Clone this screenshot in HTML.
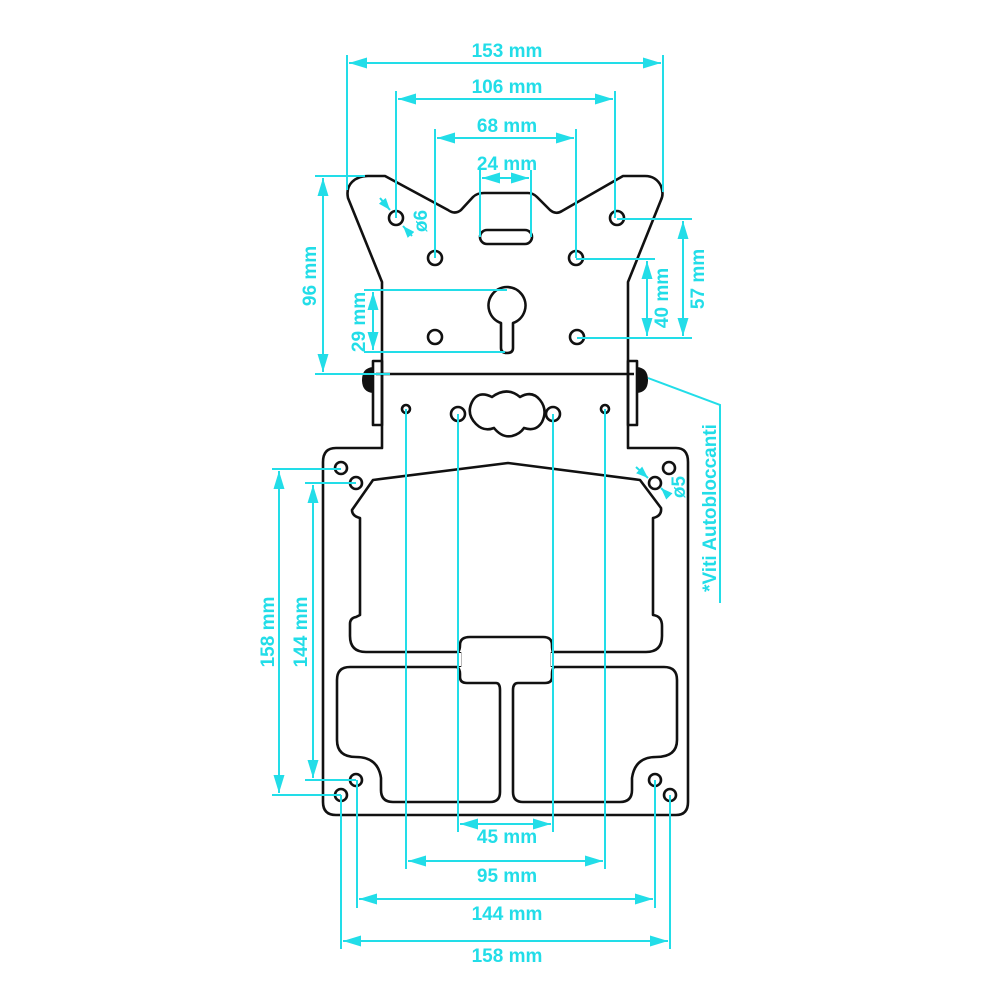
<!DOCTYPE html>
<html><head><meta charset="utf-8"><style>
html,body{margin:0;padding:0;background:#fff}
svg{display:block}
text{font-family:"Liberation Sans",sans-serif;font-weight:bold;fill:#22dde8;font-size:19px}
</style></head><body>
<svg width="1000" height="1000" viewBox="0 0 1000 1000" xmlns="http://www.w3.org/2000/svg">
<defs>
<marker id="a" viewBox="0 0 10 10" refX="10" refY="5" markerWidth="18" markerHeight="11" markerUnits="userSpaceOnUse" orient="auto-start-reverse" preserveAspectRatio="none"><path d="M0,0 L10,5 L0,10 Z" fill="#22dde8"/></marker>
<marker id="b" viewBox="0 0 10 10" refX="10" refY="5" markerWidth="12" markerHeight="9" markerUnits="userSpaceOnUse" orient="auto-start-reverse" preserveAspectRatio="none"><path d="M0,0 L10,5 L0,10 Z" fill="#22dde8"/></marker>
</defs>
<g fill="none" stroke="#111" stroke-width="2.6" stroke-linejoin="round">
<path d="M382,374 L382,282 L348,198 Q346,188 352,182 Q358,176 368,176 L385,176 L448,210 Q455,215 461,210 L473,197 Q477,193 484,193 L528,193 Q533,193 537,197 L550,210 Q556,215 562,211 L623,176 L645,176 Q656,176 661,186 Q664,194 661,200 L628,282 L628,374"/>
<line x1="376" y1="374" x2="634" y2="374"/>
<rect x="373" y="361" width="9" height="64"/>
<rect x="628" y="361" width="9" height="64"/>
<path d="M382,374 L382,448 L336,448 Q323,448 323,462 L323,802 Q323,815 336,815 L676,815 Q688,815 688,802 L688,462 Q688,448 676,448 L628,448 L628,374"/>
<circle cx="396" cy="218" r="7"/><circle cx="617" cy="218" r="7"/>
<circle cx="435" cy="258" r="7"/><circle cx="576" cy="258" r="7"/>
<circle cx="435" cy="337" r="7"/><circle cx="577" cy="337" r="7"/>
<rect x="480" y="230" width="52" height="14" rx="7"/>
<path d="M501,323 A18.5,18.5 0 1 1 513,323 L513,348 Q513,353 507,353 Q501,353 501,348 Z"/>
<circle cx="406" cy="409" r="4"/><circle cx="605" cy="409" r="4"/>
<circle cx="458" cy="414" r="7"/><circle cx="553" cy="414" r="7"/>
<path d="M492,397 Q478,390 472,402 Q466,414 476,424 Q484,432 494,428 Q502,438 512,436 Q520,434 524,428 Q536,432 542,422 Q548,410 540,400 Q532,390 520,397 Q507,386 492,397 Z"/>
<circle cx="341" cy="468" r="6"/><circle cx="356" cy="483" r="6"/>
<circle cx="669" cy="468" r="6"/><circle cx="655" cy="483" r="6"/>
<circle cx="356" cy="780" r="6"/><circle cx="341" cy="795" r="6"/>
<circle cx="655" cy="780" r="6"/><circle cx="670" cy="795" r="6"/>
<path d="M458,652 L366,652 Q350,652 350,636 L350,624 Q350,618 356,617 L360,615 L360,518 Q352,516 352,510 L373,480 L508,463 L640,480 L661,508 Q662,516 653,518 L653,615 Q662,616 662,626 L662,636 Q662,652 646,652 L553,652"/>
<path d="M458,652 Q460,650 460,645 Q460,637 470,637 L543,637 Q552,637 552,645 Q552,650 553,652"/>
<path d="M457,667 Q460,669 460,674 L460,677 Q460,683 467,683 L496,683 Q500,683 500,690 L500,792 Q500,802 490,802 L393,802 Q381,802 381,790 L381,778 Q378,757 356,757 Q337,757 337,740 L337,680 Q337,667 350,667 Z"/>
<path d="M554,667 Q552,669 552,674 L552,677 Q552,683 545,683 L518,683 Q513,683 513,690 L513,792 Q513,802 523,802 L620,802 Q632,802 632,790 L632,778 Q635,757 656,757 Q677,757 677,740 L677,680 Q677,667 664,667 Z"/>
<line x1="460" y1="652" x2="460" y2="667"/><line x1="552" y1="652" x2="552" y2="667"/>
</g>
<path d="M373,367 Q362,368 362,380 Q362,392 373,393 Z" fill="#111"/>
<path d="M637,367 Q648,368 648,380 Q648,392 637,393 Z" fill="#111"/>
<rect x="459" y="653" width="2" height="13" fill="#fff"/>
<rect x="551" y="653" width="2" height="13" fill="#fff"/>
<g stroke="#22dde8" stroke-width="2" fill="none">
<line x1="347" y1="55" x2="347" y2="190"/><line x1="663" y1="55" x2="663" y2="192"/>
<line x1="349" y1="63" x2="661" y2="63" marker-start="url(#a)" marker-end="url(#a)"/>
<line x1="396" y1="91" x2="396" y2="218"/><line x1="615" y1="91" x2="615" y2="218"/>
<line x1="398" y1="99" x2="613" y2="99" marker-start="url(#a)" marker-end="url(#a)"/>
<line x1="435" y1="129" x2="435" y2="258"/><line x1="576" y1="129" x2="576" y2="258"/>
<line x1="437" y1="138" x2="574" y2="138" marker-start="url(#a)" marker-end="url(#a)"/>
<line x1="480" y1="170" x2="480" y2="237"/><line x1="531" y1="170" x2="531" y2="237"/>
<line x1="482" y1="178" x2="529" y2="178" marker-start="url(#a)" marker-end="url(#a)"/>
<line x1="315" y1="176" x2="365" y2="176"/><line x1="315" y1="374" x2="390" y2="374"/>
<line x1="323" y1="178" x2="323" y2="372" marker-start="url(#a)" marker-end="url(#a)"/>
<line x1="364" y1="290" x2="507" y2="290"/><line x1="364" y1="352" x2="505" y2="352"/>
<line x1="373" y1="292" x2="373" y2="350" marker-start="url(#a)" marker-end="url(#a)"/>
<line x1="576" y1="259" x2="655" y2="259"/><line x1="577" y1="338" x2="692" y2="338"/>
<line x1="647" y1="261" x2="647" y2="336" marker-start="url(#a)" marker-end="url(#a)"/>
<line x1="617" y1="219" x2="692" y2="219"/>
<line x1="683" y1="221" x2="683" y2="336" marker-start="url(#a)" marker-end="url(#a)"/>
<line x1="272" y1="469" x2="341" y2="469"/><line x1="272" y1="795" x2="341" y2="795"/>
<line x1="279" y1="471" x2="279" y2="793" marker-start="url(#a)" marker-end="url(#a)"/>
<line x1="305" y1="483" x2="356" y2="483"/><line x1="305" y1="780" x2="356" y2="780"/>
<line x1="313" y1="485" x2="313" y2="778" marker-start="url(#a)" marker-end="url(#a)"/>
<line x1="406" y1="409" x2="406" y2="869"/><line x1="605" y1="409" x2="605" y2="869"/>
<line x1="458" y1="414" x2="458" y2="832"/><line x1="553" y1="414" x2="553" y2="832"/>
<line x1="341" y1="795" x2="341" y2="949"/><line x1="670" y1="795" x2="670" y2="949"/>
<line x1="357" y1="780" x2="357" y2="908"/><line x1="655" y1="780" x2="655" y2="908"/>
<line x1="460" y1="824" x2="551" y2="824" marker-start="url(#a)" marker-end="url(#a)"/>
<line x1="408" y1="861" x2="603" y2="861" marker-start="url(#a)" marker-end="url(#a)"/>
<line x1="359" y1="899" x2="653" y2="899" marker-start="url(#a)" marker-end="url(#a)"/>
<line x1="343" y1="941" x2="668" y2="941" marker-start="url(#a)" marker-end="url(#a)"/>
<polyline points="648,378 720,405 720,603"/>
<line x1="380" y1="198" x2="390" y2="210" marker-end="url(#b)"/>
<line x1="412" y1="236" x2="403" y2="226" marker-end="url(#b)"/>
<line x1="636" y1="467" x2="648" y2="478" marker-end="url(#b)"/>
<line x1="669" y1="496" x2="661" y2="488" marker-end="url(#b)"/>
</g>
<g>
<text x="507" y="57" text-anchor="middle">153 mm</text>
<text x="507" y="93" text-anchor="middle">106 mm</text>
<text x="507" y="132" text-anchor="middle">68 mm</text>
<text x="507" y="170" text-anchor="middle">24 mm</text>
<text x="507" y="843" text-anchor="middle">45 mm</text>
<text x="507" y="882" text-anchor="middle">95 mm</text>
<text x="507" y="920" text-anchor="middle">144 mm</text>
<text x="507" y="962" text-anchor="middle">158 mm</text>
<text transform="translate(316,276) rotate(-90)" text-anchor="middle">96 mm</text>
<text transform="translate(365,322) rotate(-90)" text-anchor="middle">29 mm</text>
<text transform="translate(668,298) rotate(-90)" text-anchor="middle">40 mm</text>
<text transform="translate(704,279) rotate(-90)" text-anchor="middle">57 mm</text>
<text transform="translate(274,632) rotate(-90)" text-anchor="middle">158 mm</text>
<text transform="translate(307,632) rotate(-90)" text-anchor="middle">144 mm</text>
<text transform="translate(427,221) rotate(-90)" text-anchor="middle">ø6</text>
<text transform="translate(685,487) rotate(-90)" text-anchor="middle">ø5</text>
<text transform="translate(716,508) rotate(-90)" text-anchor="middle">*Viti Autobloccanti</text>
</g>
</svg>
</body></html>
